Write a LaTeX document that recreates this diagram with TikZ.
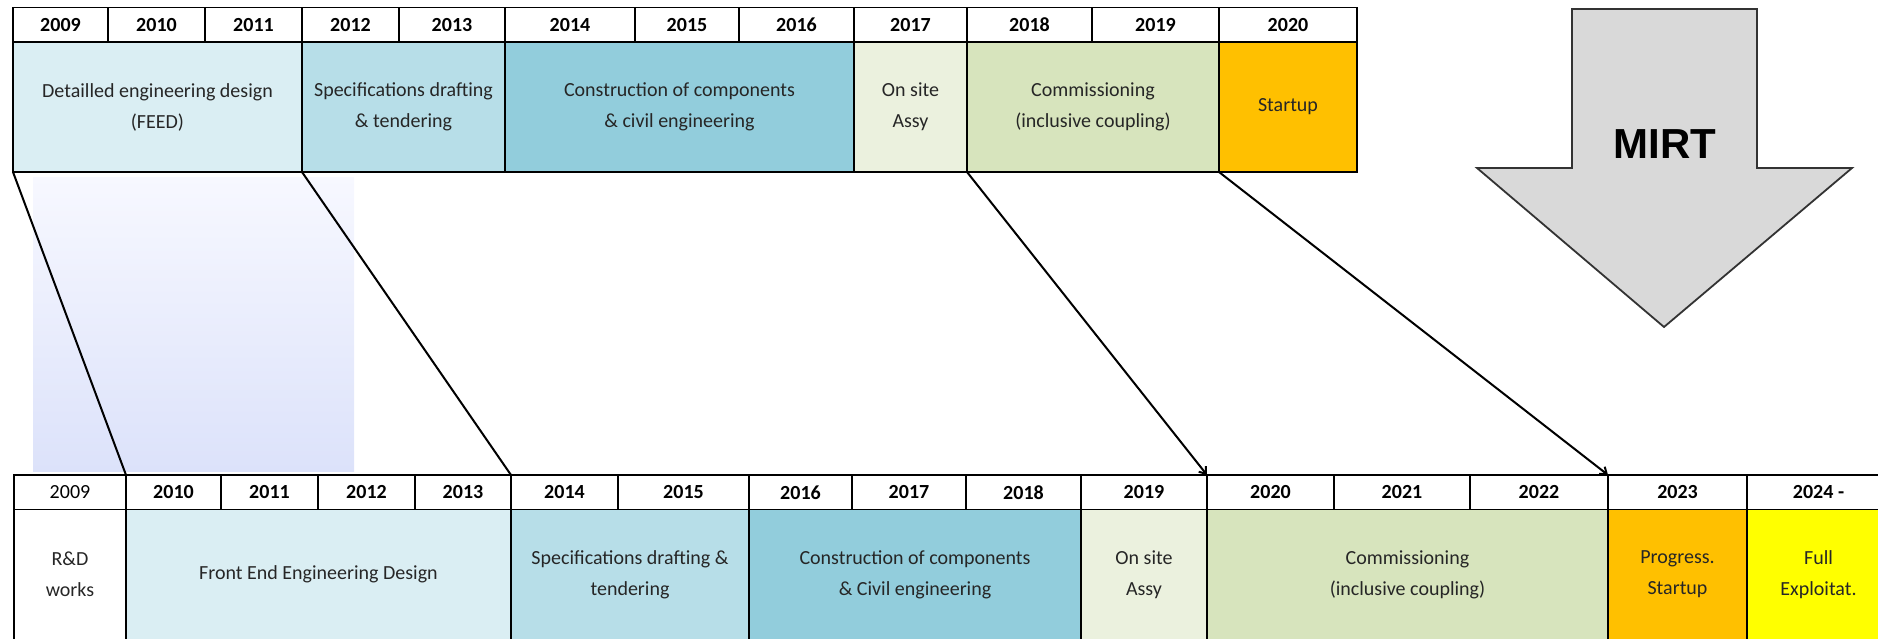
\documentclass[tikz,border=0pt]{standalone}
\usepackage{fontspec}
\setmainfont{Carlito}
\newfontfamily\arrowfont{Liberation Sans}
\usepackage{xcolor}
\usetikzlibrary{arrows.meta}

\definecolor{feedblue}{HTML}{DAEEF3}
\definecolor{specblue}{HTML}{B7DEE8}
\definecolor{consblue}{HTML}{92CDDC}
\definecolor{assygreen}{HTML}{EBF1DE}
\definecolor{commgreen}{HTML}{D7E4BD}
\definecolor{startorange}{HTML}{FFC000}
\definecolor{fullyellow}{HTML}{FFFF00}
\definecolor{mirtgray}{HTML}{D9D9D9}
\definecolor{shadetop}{HTML}{F7F8FF}
\definecolor{shadebot}{HTML}{DCE2FA}

\tikzset{
  yearcell/.style={draw=black, line width=1.3pt, inner sep=0pt, outer sep=0pt,
    minimum height=34.5, font=\bfseries\fontsize{20}{24}\selectfont},
  phasecell/.style={draw=black, line width=1.3pt, inner sep=0pt, outer sep=0pt,
    minimum height=130, align=center, text=black!85, font=\fontsize{20}{31}\selectfont},
  link/.style={line width=2pt, line cap=round}
}

\begin{document}
\begin{tikzpicture}[x=1pt, y=-1pt]
  \useasboundingbox (0,0) rectangle (1878,638);

  % Shaded band behind the first link
  \shade[top color=shadetop, bottom color=shadebot] (33,177) rectangle (354,471);

  % Upper schedule: years
  \foreach \yname/\xa/\xb in {2009/13/108, 2010/108/205, 2011/205/302, 2012/302/399,
      2013/399/505, 2014/505/635, 2015/635/739, 2016/739/854, 2017/854/967,
      2018/967/1092, 2019/1092/1219, 2020/1219/1357}
    \node[yearcell, minimum width=\xb-\xa] (top\yname) at ({(\xa+\xb)/2},24.75) {\yname};

  % Upper schedule: phases
  \foreach \pname/\xa/\xb/\pcol/\ptext in {
      feed/13/302/feedblue/{Detailled engineering design\\(FEED)},
      spec/302/505/specblue/{Specifications drafting\\\& tendering},
      cons/505/854/consblue/{Construction of components\\\& civil engineering},
      assy/854/967/assygreen/{On site\\Assy},
      comm/967/1219/commgreen/{Commissioning\\(inclusive coupling)},
      start/1219/1357/startorange/{Startup}}
    \node[phasecell, fill=\pcol, minimum width=\xb-\xa] (top\pname) at ({(\xa+\xb)/2},107) {\ptext};

  % Lower schedule: years
  \node[yearcell, font=\fontsize{20}{24}\selectfont, minimum width=112] (bot2009) at (70,492.25) {2009};
  \foreach \yname/\xa/\xb in {2010/126/221, 2011/221/318, 2012/318/415, 2013/415/511,
      2014/511/618, 2015/618/749, 2016/749/852, 2017/852/966, 2018/966/1081,
      2019/1081/1207, 2020/1207/1334, 2021/1334/1470, 2022/1470/1608, 2023/1608/1747}
    \node[yearcell, minimum width=\xb-\xa] (bot\yname) at ({(\xa+\xb)/2},492.25) {\yname};
  \node[yearcell, minimum width=143] (bot2024) at (1818.5,492.25) {2024 -};

  % Lower schedule: phases
  \foreach \pname/\xa/\xb/\pcol/\ptext in {
      rnd/14/126/white/{R\&D\\works},
      feed/126/511/feedblue/{Front End Engineering Design},
      spec/511/749/specblue/{Specifications drafting \&\\tendering},
      cons/749/1081/consblue/{Construction of components\\\& Civil engineering},
      assy/1081/1207/assygreen/{On site\\Assy},
      comm/1207/1608/commgreen/{Commissioning\\(inclusive coupling)},
      start/1608/1747/startorange/{Progress.\\Startup},
      full/1747/1890/fullyellow/{Full\\Exploitat.}}
    \node[phasecell, fill=\pcol, minimum width=\xb-\xa] (bot\pname) at ({(\xa+\xb)/2},574.5) {\ptext};

  % Links from the old plan to the new one
  \draw[link] (topfeed.south west) -- (bot2010.north west);
  \draw[link] (topspec.south west) -- (bot2014.north west);
  \draw[link, -{Straight Barb[length=6pt, width=9pt]}] (topcomm.south west) -- (bot2020.north west);
  \draw[link, -{Straight Barb[length=6pt, width=9pt]}] (topstart.south west) -- (bot2023.north west);

  % Big MIRT arrow
  \filldraw[fill=mirtgray, draw=black!80, line width=1.8pt, line join=miter]
    (1572,9) -- (1757,9) -- (1757,168) -- (1852,168) -- (1664,327)
    -- (1477,168) -- (1572,168) -- cycle;
  \node[font=\arrowfont\bfseries\fontsize{42}{48}\selectfont] (mirt) at (1665,144) {MIRT};
\end{tikzpicture}
\end{document}
